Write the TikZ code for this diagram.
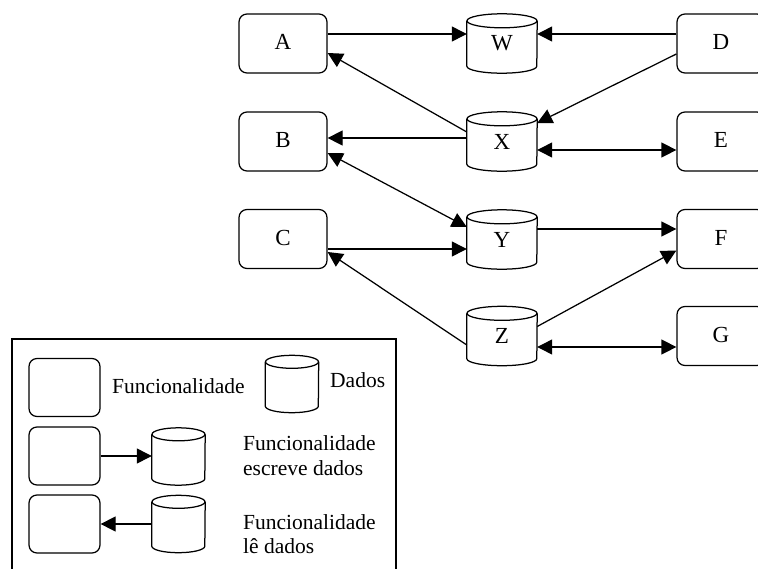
\documentclass[tikz,border=0pt]{standalone}
\usepackage{fontspec}
\setmainfont{Liberation Serif}
\usetikzlibrary{arrows.meta,calc}
\newcommand\dbdraw[3]{%
  \draw[dbline] ($(#1.north west)+(0pt,-#3)$) -- ($(#1.south west)+(0pt,#3)$)
    arc[start angle=180,end angle=360,x radius=#2,y radius=#3]
    -- ($(#1.north east)+(0pt,-#3)$);
  \draw[dbline] ($(#1.north)+(0pt,-#3)$) ellipse[x radius=#2,y radius=#3];}
\tikzset{
  lbl/.style={font=\fontsize{23}{26}\selectfont},
  leg/.style={font=\fontsize{21.5}{24}\selectfont, anchor=base west, inner sep=0pt},
  func/.style={draw, rounded corners=8pt, minimum width=88pt, minimum height=59pt, inner sep=0pt, line width=1.25pt, lbl},
  lfunc/.style={draw, rounded corners=8pt, minimum width=71pt, minimum height=58pt, inner sep=0pt, line width=1.25pt},
  dbnode/.style={minimum width=70pt, minimum height=59pt, inner sep=0pt, lbl},
  ldbnode/.style={minimum width=53pt, minimum height=57pt, inner sep=0pt},
  dbline/.style={line width=1.25pt},
  tip/.tip={Triangle[length=15pt,width=15pt]},
  conn/.style={line width=1.25pt, -tip},
  bconn/.style={line width=1.25pt, tip-tip},
}
\begin{document}
\begin{tikzpicture}[x=1pt,y=-1pt]
\useasboundingbox (0,0) rectangle (758,568);
% functionality boxes
\node[func] (A) at (283,43.5) {\raisebox{2.5pt}{A}};
\node[func] (B) at (283,141.5) {\raisebox{2.5pt}{B}};
\node[func] (C) at (283,239) {\raisebox{2.5pt}{C}};
\node[func] (D) at (721,43.5) {\raisebox{3pt}{D}};
\node[func] (E) at (721,141.5) {\raisebox{3pt}{E}};
\node[func] (F) at (721,239) {\raisebox{3pt}{F}};
\node[func] (G) at (721,336) {\raisebox{3pt}{G}};
% data stores
\node[dbnode] (W) at (502,43.5) {\raisebox{-4pt}{W}};
\node[dbnode] (X) at (502,141.5) {\raisebox{-5pt}{X}};
\node[dbnode] (Y) at (502,239.5) {\raisebox{-5pt}{Y}};
\node[dbnode] (Z) at (502,336) {\raisebox{-5pt}{Z}};
\dbdraw{W}{35pt}{7pt}
\dbdraw{X}{35pt}{7pt}
\dbdraw{Y}{35pt}{7pt}
\dbdraw{Z}{35pt}{7pt}
% connectors
\draw[conn] ([yshift=9.5pt]A.east) -- ([yshift=9.5pt]W.west);
\draw[conn] ([yshift=9.5pt]D.west) -- ([yshift=9.5pt]W.east);
\draw[conn] ([yshift=9.5pt]X.west) -- ([yshift=-9.5pt]A.east);
\draw[conn] ([yshift=-10.5pt]D.west) -- ([yshift=18.5pt]X.east);
\draw[conn] ([yshift=3.5pt]X.west) -- ([yshift=3.5pt]B.east);
\draw[bconn] ([yshift=-8.5pt]X.east) -- ([yshift=-8.5pt]E.west);
\draw[bconn] ([yshift=-11.5pt]B.east) -- ([yshift=12.5pt]Y.west);
\draw[conn] ([yshift=-10pt]C.east) -- ([yshift=-9.5pt]Y.west);
\draw[conn] ([yshift=-9pt]Z.west) -- ([yshift=-13pt]C.east);
\draw[conn] ([yshift=10.5pt]Y.east) -- ([yshift=10pt]F.west);
\draw[conn] ([yshift=9.5pt]Z.east) -- ([yshift=-11.5pt]F.west);
\draw[bconn] ([yshift=-11pt]Z.east) -- ([yshift=-11pt]G.west);
% legend
\draw[line width=1.25pt] (12,339) rectangle (396,600);
\node[lfunc] (L1) at (64.5,387.5) {};
\node[lfunc] (L2) at (64.5,456) {};
\node[lfunc] (L3) at (64.5,524) {};
\node[ldbnode] (M1) at (292,384) {};
\node[ldbnode] (M2) at (178.5,456.5) {};
\node[ldbnode] (M3) at (178.5,524) {};
\dbdraw{M1}{26.5pt}{6.5pt}
\dbdraw{M2}{26.5pt}{6.5pt}
\dbdraw{M3}{26.5pt}{6.5pt}
\draw[conn] (L2.east) -- (L2.east -| M2.west);
\draw[conn] (M3.west) -- (M3.west -| L3.east);
\node[leg] (t1) at (112,393) {Funcionalidade};
\node[leg] (t2) at (330,387) {Dados};
\node[leg] (t3) at (243,450) {Funcionalidade};
\node[leg] (t4) at (243,475) {escreve dados};
\node[leg] (t5) at (243,529) {Funcionalidade};
\node[leg] (t6) at (243,553) {lê dados};
\end{tikzpicture}
\end{document}
